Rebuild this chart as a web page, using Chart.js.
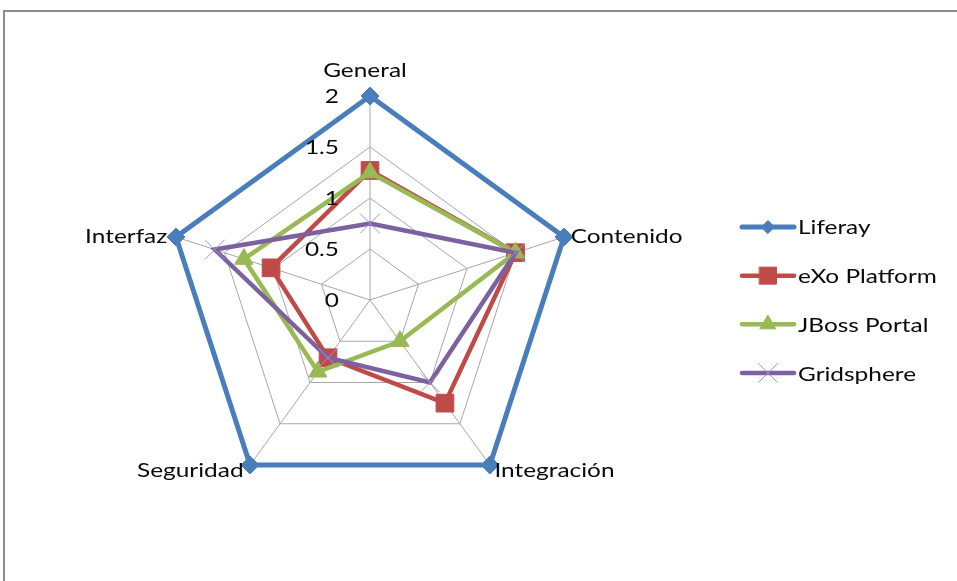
<!DOCTYPE html>
<html>
<head>
<meta charset="utf-8">
<script src="https://cdn.jsdelivr.net/npm/chart.js@4.4.0/dist/chart.umd.min.js"></script>
<style>
  html, body { margin: 0; padding: 0; background: #fff; }
  #wrap { position: relative; width: 957px; height: 581px; overflow: hidden; }
  #frame { position: absolute; left: 3px; top: 10px; width: 1200px; height: 900px;
           border-left: 2px solid #8c8c8c; border-top: 2px solid #8c8c8c; }
  #radarChart { position: absolute; left: 0; top: 0; }
</style>
</head>
<body>
<div id="wrap">
  <div id="frame"></div>
  <canvas id="radarChart" width="957" height="581"></canvas>
</div>
<script>

// datos
var categorias = ["General", "Contenido", "Integración", "Seguridad", "Interfaz"];
var liferay    = [2, 2, 2, 2, 2];
var exo        = [1.27, 1.5, 1.25, 0.7, 1.02];
var jboss      = [1.25, 1.5, 0.5, 0.87, 1.3];
var gridsphere = [0.75, 1.5, 1, 0.7, 1.6];
var ticksEscala = [0, 0.5, 1, 1.5, 2];
var ticksTexto  = ["0", "0.5", "1", "1.5", "2"];

var fuente = '20px Lato, "Liberation Sans", sans-serif';
var ancho = 1.22;   // el texto del original esta algo estirado

// texto estirado en horizontal
function texto(ctx, s, x, y, align){
  ctx.save();
  ctx.translate(x, y);
  ctx.scale(ancho, 1);
  ctx.font = fuente;
  ctx.fillStyle = '#0a0a0a';
  ctx.textAlign = align;
  ctx.textBaseline = 'middle';
  ctx.fillText(s, 0, 0);
  ctx.restore();
}

// etiquetas de la escala, a la izquierda del eje General
var etiquetasEscala = {
  id: 'etiquetasEscala',
  afterDatasetsDraw: function(chart){
    var r = chart.scales.r;
    ticksEscala.forEach(function(v, i){
      var y = r.yCenter - r.getDistanceFromCenterForValue(v);
      texto(chart.ctx, ticksTexto[i], r.xCenter - 31, y + 1, 'right');
    });
  }
};

// nombres de los ejes
var etiquetasEjes = {
  id: 'etiquetasEjes',
  afterDraw: function(chart){
    var r = chart.scales.r;
    categorias.forEach(function(c, i){
      var p0 = r.getPointPosition(i, r.drawingArea);
      var arriba = Math.abs(p0.x - r.xCenter) < 1;
      var p = r.getPointPosition(i, r.drawingArea + (arriba ? 26 : 6));
      var align = arriba ? 'center' : (p.x > r.xCenter ? 'left' : 'right');
      var dx = arriba ? -5 : (p.x > r.xCenter ? 1 : -3);
      texto(chart.ctx, c, p.x + dx, p.y + 1, align);
    });
  }
};

// leyenda a la derecha, linea con marcador
var leyenda = {
  id: 'leyenda',
  afterDraw: function(chart){
    var r = chart.scales.r;
    var ctx = chart.ctx;
    var sets = chart.data.datasets;
    var paso = 48.7;
    var y0 = r.yCenter - paso * (sets.length - 1) / 2;
    sets.forEach(function(ds, i){
      var y = y0 + paso * i;
      ctx.save();
      ctx.strokeStyle = ds.borderColor;
      ctx.lineWidth = ds.borderWidth;
      ctx.lineCap = 'round';
      ctx.beginPath();
      ctx.moveTo(742, y);
      ctx.lineTo(794, y);
      ctx.stroke();
      ctx.fillStyle = ds.pointBackgroundColor;
      ctx.strokeStyle = ds.pointBorderColor;
      ctx.lineWidth = ds.pointBorderWidth;
      Chart.helpers.drawPoint(ctx, {
        pointStyle: ds.pointStyle,
        radius: ds.legendRadius,
        rotation: 0,
        borderWidth: ds.pointBorderWidth
      }, 768, y);
      ctx.restore();
      texto(ctx, ds.label, 798, y + 1, 'left');
    });
  }
};

function drawChart(){

  var ctx = document.getElementById('radarChart').getContext('2d');
  var chart = new Chart(ctx, {
    type: 'radar',
    data: {
      labels: categorias,
      datasets: [{
          label: 'Liferay',
          data: liferay,
          borderColor: '#4A7EBB',
          borderWidth: 5,
          pointStyle: 'rectRot',
          pointRadius: 9,
          legendRadius: 6.5,
          pointBackgroundColor: '#4A7EBB',
          pointBorderColor: '#4A7EBB',
          pointBorderWidth: 1,
          fill: false,
          order: 4
        }, {
          label: 'eXo Platform',
          data: exo,
          borderColor: '#BE4B48',
          borderWidth: 4.5,
          pointStyle: 'rect',
          pointRadius: 12.5,
          legendRadius: 12,
          pointBackgroundColor: '#BE4B48',
          pointBorderColor: '#BE4B48',
          pointBorderWidth: 1,
          fill: false,
          order: 3
        }, {
          label: 'JBoss Portal',
          data: jboss,
          borderColor: '#98B954',
          borderWidth: 4.5,
          pointStyle: 'triangle',
          pointRadius: 10.5,
          legendRadius: 9,
          pointBackgroundColor: '#98B954',
          pointBorderColor: '#98B954',
          pointBorderWidth: 1,
          fill: false,
          order: 2
        }, {
          label: 'Gridsphere',
          data: gridsphere,
          borderColor: '#7D60A0',
          borderWidth: 4.5,
          pointStyle: 'crossRot',
          pointRadius: 14,
          legendRadius: 13,
          pointBackgroundColor: '#A592CB',
          pointBorderColor: '#A592CB',
          pointBorderWidth: 1,
          fill: false,
          order: 1
        }]
    },
    options: {
      responsive: false,
      animation: false,
      layout: { padding: { left: 166, right: 383, top: 96, bottom: 77 } },
      elements: { line: { tension: 0 } },
      plugins: {
        legend: { display: false },
        tooltip: { enabled: false }
      },
      scales: {
        r: {
          min: 0,
          max: 2,
          ticks: { display: false, stepSize: 0.5 },
          pointLabels: { display: false },
          grid: { color: '#a6a6a6', lineWidth: 1 },
          angleLines: { color: '#a6a6a6', lineWidth: 1 }
        }
      }
    },
    plugins: [etiquetasEscala, etiquetasEjes, leyenda]
  });
}

drawChart();
</script>
</body>
</html>
